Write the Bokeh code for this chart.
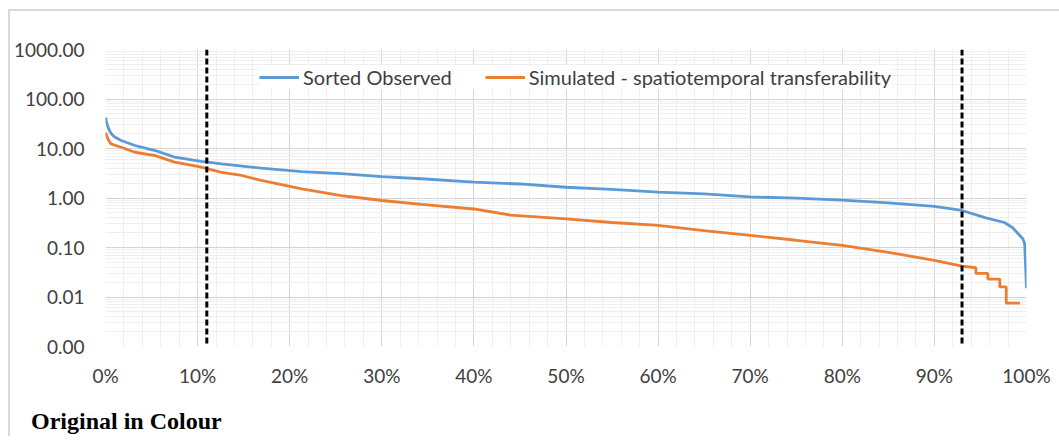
from bokeh.plotting import figure
from bokeh.layouts import column
from bokeh.models import (Range1d, FixedTicker, CustomJSTickFormatter, Span, Div,
                          Legend, LegendItem)
from bokeh.embed import file_html
from bokeh.resources import INLINE

# ---- data ----
obs_pct = [0, 0.1, 0.3, 0.6, 1.0, 1.7, 3.2, 5.4, 7.5, 10.4, 12.6, 16.9, 21.3, 25.6, 30, 34.3,
           40, 45, 50, 55, 60, 65, 70, 75, 80, 85, 90, 93, 95.5, 97.6, 98.5, 99.1, 99.6, 99.8, 100]
obs_val = [42, 35, 26, 20, 17, 14.5, 11.5, 9.1, 6.7, 5.5, 4.9, 4.0, 3.4, 3.1, 2.7, 2.45,
           2.1, 1.92, 1.65, 1.49, 1.31, 1.21, 1.05, 0.99, 0.91, 0.80, 0.68, 0.56, 0.40, 0.32, 0.25,
           0.19, 0.15, 0.12, 0.015]

sim_pct = [0, 0.3, 0.6, 1.7, 3.2, 5.4, 7.5, 10.4, 12.6, 14.8, 16.9, 21.3, 25.6, 27.8, 30, 34.3,
           40, 44, 50, 55, 60, 65, 70, 75, 80, 85, 90, 93, 94.5, 94.5, 95.8, 95.8, 97.1, 97.1,
           97.8, 97.8, 99.3]
sim_val = [21, 15, 12.4, 10.6, 8.4, 7.2, 5.3, 4.2, 3.3, 2.85, 2.26, 1.53, 1.12, 1.0, 0.89, 0.74,
           0.6, 0.45, 0.38, 0.32, 0.28, 0.22, 0.175, 0.14, 0.11, 0.08, 0.055, 0.042, 0.039, 0.030,
           0.030, 0.023, 0.023, 0.016, 0.016, 0.0075, 0.0075]

marker_pct = [11, 93]

x_ticks = [0, 10, 20, 30, 40, 50, 60, 70, 80, 90, 100]
y_ticks = [0.001, 0.01, 0.1, 1, 10, 100, 1000]

series_names = ["Sorted Observed", "Simulated - spatiotemporal transferability"]
caption = "Original in Colour"

# ---- figure ----
p = figure(width=1049, height=385, x_range=Range1d(0, 100), y_range=Range1d(0.001, 1000),
           y_axis_type="log", output_backend="svg", toolbar_location=None,
           min_border_left=94, min_border_top=38, min_border_right=33, min_border_bottom=50)
p.outline_line_color = None
p.background_fill_color = "white"
p.border_fill_color = "white"

x_minor = list(range(0, 101, 2))
y_minor = [m * 10.0 ** e for e in range(-3, 3) for m in range(2, 10)]
p.xaxis.ticker = FixedTicker(ticks=x_ticks, minor_ticks=x_minor)
p.yaxis.ticker = FixedTicker(ticks=y_ticks, minor_ticks=y_minor)
p.xaxis.formatter = CustomJSTickFormatter(code="return tick.toFixed(0) + '%';")
p.yaxis.formatter = CustomJSTickFormatter(code="return tick.toFixed(2);")

for ax in (p.xaxis, p.yaxis):
    ax.axis_line_color = None
    ax.major_tick_line_color = None
    ax.minor_tick_line_color = None
    ax.major_tick_out = 0
    ax.major_tick_in = 0
    ax.minor_tick_out = 0
    ax.minor_tick_in = 0
    ax.major_label_text_font = "Lato"
    ax.major_label_text_font_size = "19px"
    ax.major_label_text_color = "#404040"
p.yaxis.major_label_standoff = 21
p.xaxis.major_label_standoff = 17

for g in (p.xgrid, p.ygrid):
    g.grid_line_color = "#d4d4d4"
    g.grid_line_width = 1
    g.minor_grid_line_color = "#efefef"
    g.minor_grid_line_width = 1

r_obs = p.line(obs_pct, obs_val, line_color="#5B9BD5", line_width=2.8)
r_sim = p.line(sim_pct, sim_val, line_color="#ED7D31", line_width=2.8)

for m in marker_pct:
    p.add_layout(Span(location=m, dimension="height", line_color="black",
                      line_width=3, line_dash="6 3"))

legend = Legend(items=[LegendItem(label=series_names[0], renderers=[r_obs]),
                       LegendItem(label=series_names[1], renderers=[r_sim])],
                orientation="horizontal", location=(154, 257),
                label_text_font="Lato", label_text_font_size="20px", label_text_color="#404040",
                glyph_width=40, glyph_height=24, label_height=24, label_standoff=4,
                spacing=33, padding=4, margin=0, border_line_color=None,
                background_fill_color="white", background_fill_alpha=1.0)
p.add_layout(legend)

cap = Div(text=caption, width=1033, height=30,
          styles={"font-family": "'Liberation Serif'", "font-weight": "bold",
                  "font-size": "24px", "line-height": "28px", "color": "black",
                  "padding-left": "16px", "padding-top": "6px", "background": "white"})

page = column(p, cap, spacing=0,
              styles={"margin-left": "8px", "margin-top": "9px",
                      "border-top": "2px solid #d9d9d9", "border-left": "2px solid #d9d9d9"})

open("out.html", "w").write(file_html(page, INLINE))
